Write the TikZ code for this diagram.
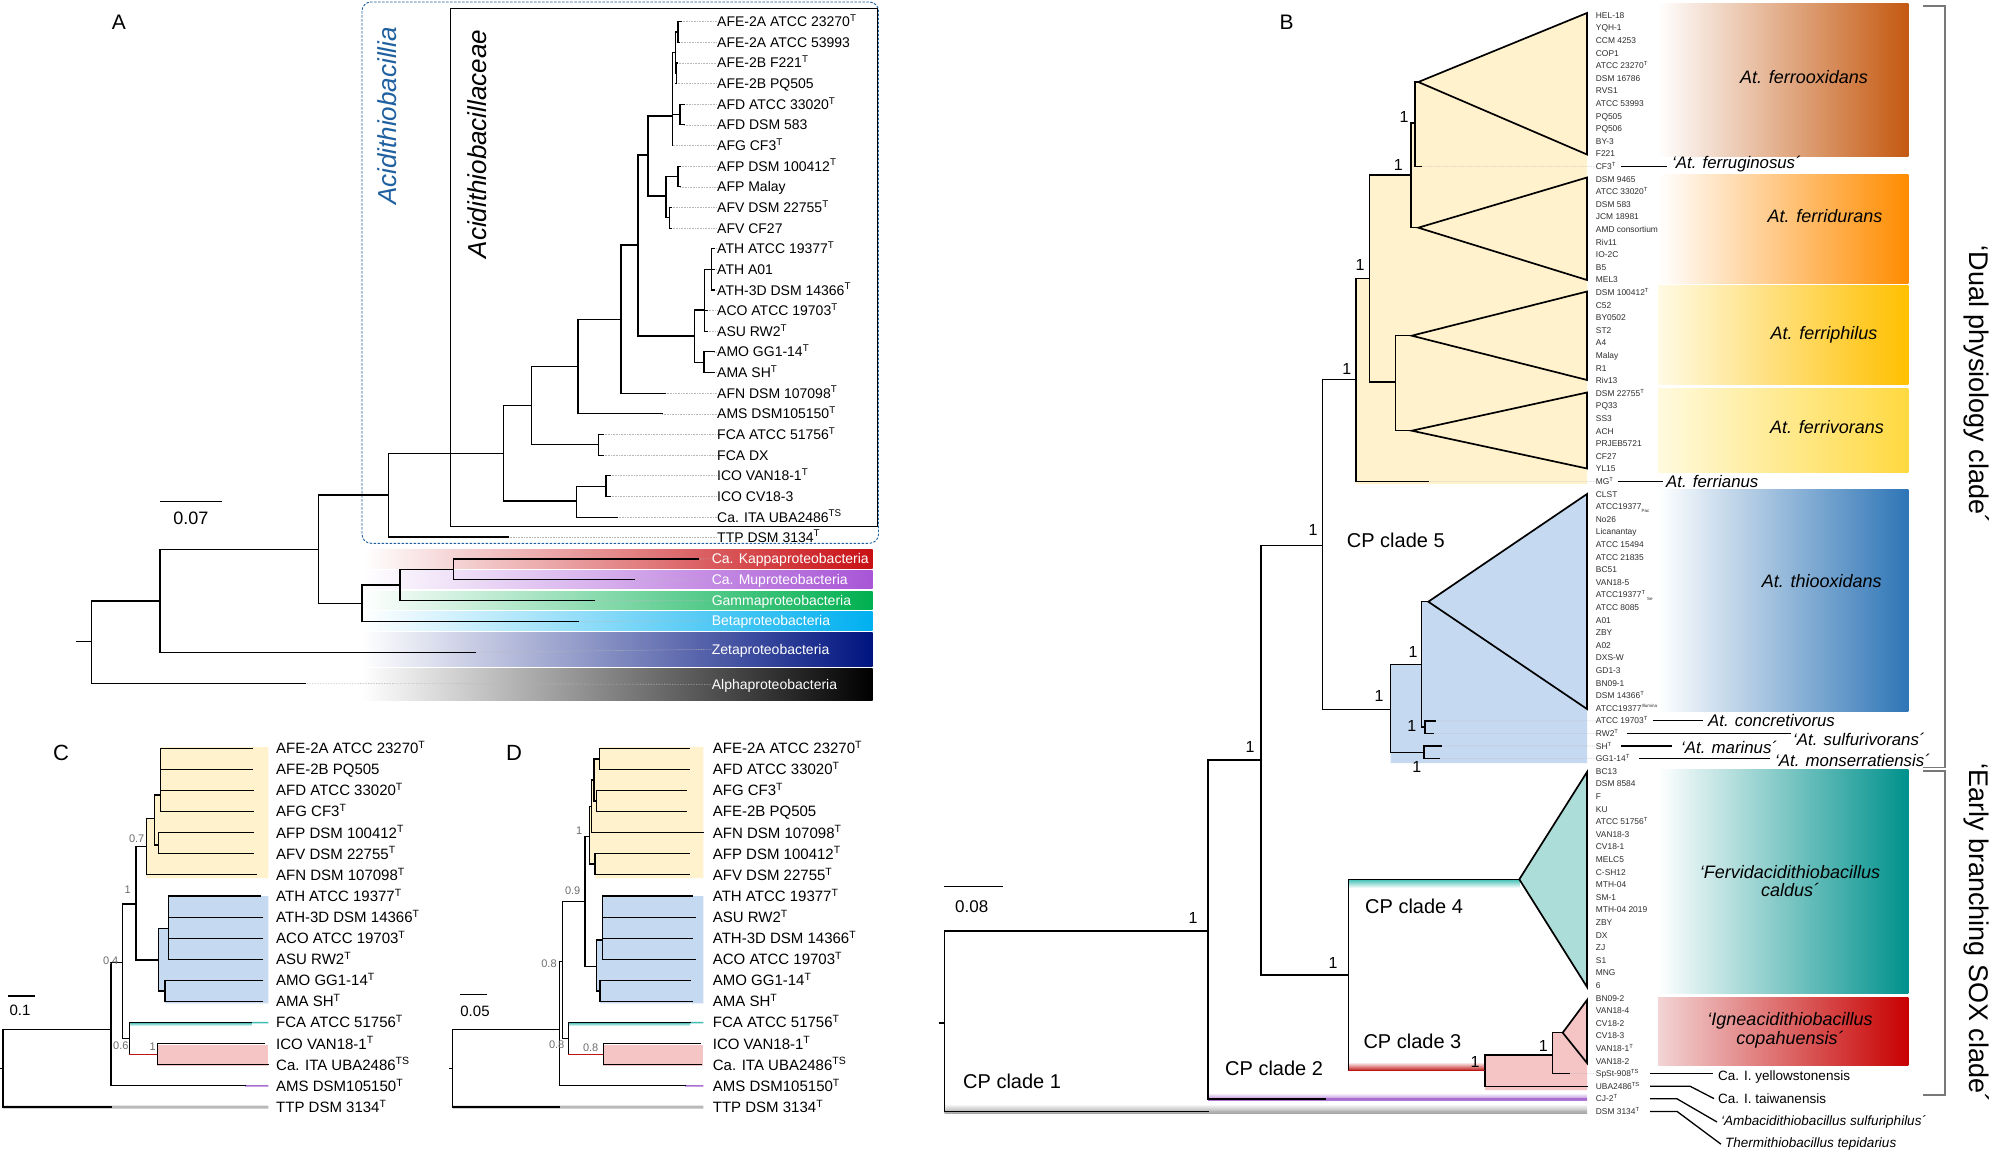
\documentclass[tikz,border=0pt]{standalone}
\usepackage{fontspec}
\setmainfont{Liberation Sans}
\usetikzlibrary{calc}
\definecolor{acidBlue}{RGB}{31,96,160}
\definecolor{kappaRed}{RGB}{200,16,20}
\definecolor{muPurple}{RGB}{168,85,214}
\definecolor{gammaGreen}{RGB}{0,176,80}
\definecolor{betaBlue}{RGB}{0,176,240}
\definecolor{zetaNavy}{RGB}{0,20,128}
\definecolor{alphaBlack}{RGB}{0,0,0}
\definecolor{ferroFill}{RGB}{255,242,204}
\definecolor{thioFill}{RGB}{197,217,240}
\definecolor{caldFill}{RGB}{173,221,216}
\definecolor{copaFill}{RGB}{245,196,196}
\definecolor{ferrooxBand}{RGB}{196,89,17}
\definecolor{ferridurBand}{RGB}{255,140,0}
\definecolor{ferriphBand}{RGB}{255,192,0}
\definecolor{ferriphLight}{RGB}{255,250,228}
\definecolor{ferrivoBand}{RGB}{255,217,64}
\definecolor{ferrivoLight}{RGB}{255,250,222}
\definecolor{thioBand}{RGB}{46,117,182}
\definecolor{caldBand}{RGB}{0,145,140}
\definecolor{copaBand}{RGB}{200,0,0}
\definecolor{copaLight}{RGB}{242,212,212}
\definecolor{tealLine}{RGB}{64,190,180}
\definecolor{purpLine}{RGB}{170,110,210}
\definecolor{redLine}{RGB}{190,20,20}
\definecolor{guideGray}{RGB}{185,185,185}
\definecolor{bootGray}{RGB}{110,110,110}
\definecolor{bracketGray}{RGB}{120,120,120}
\definecolor{strainInk}{RGB}{45,45,45}

\newcommand{\strainSub}[1]{\raisebox{-0.6ex}{\fontsize{4.5}{5}\selectfont#1}}
\newcommand{\strainSup}[1]{\raisebox{0.9ex}{\fontsize{4.5}{5}\selectfont#1}}

\tikzset{
  branch/.style={line width=1.1pt, line cap=rect},
  branchB/.style={line width=1.4pt, line cap=rect},
  tri/.style={line width=1.7pt, line join=miter},
  guide/.style={draw=guideGray, line width=0.6pt, densely dotted},
  tipA/.style={anchor=west, inner sep=0pt, text height=10pt, text depth=0pt, font=\fontsize{14}{16}\selectfont},
  tipCD/.style={anchor=west, inner sep=0pt, text height=10.7pt, text depth=0pt, font=\fontsize{15}{17}\selectfont},
  strain/.style={anchor=west, inner sep=0pt, text height=6pt, text depth=0pt, text=strainInk, font=\fontsize{8.4}{9}\selectfont},
  bandlab/.style={anchor=west, inner sep=0pt, text height=10pt, text depth=0pt, text=white, font=\fontsize{14}{16}\selectfont},
  boot/.style={inner sep=0pt, text=bootGray, font=\fontsize{11}{12}\selectfont},
  bootB/.style={inner sep=0pt, font=\fontsize{16}{18}\selectfont},
  panel/.style={inner sep=0pt, font=\fontsize{21}{24}\selectfont},
  scalelab/.style={inner sep=0pt, font=\fontsize{15}{17}\selectfont},
  species/.style={inner sep=0pt, align=center, font=\fontsize{18}{18.4}\selectfont\itshape},
  annotS/.style={anchor=west, inner sep=0pt, font=\fontsize{16.8}{18}\selectfont\itshape},
  annotL/.style={anchor=west, inner sep=0pt, font=\fontsize{13.5}{15}\selectfont},
  annotLine/.style={line width=1.3pt},
  clade/.style={anchor=west, inner sep=0pt, font=\fontsize{20}{22}\selectfont},
  bracket/.style={draw=bracketGray, line width=1.4pt},
  bracketlab/.style={inner sep=0pt, rotate=-90, font=\fontsize{27}{30}\selectfont},
  scalebar/.style={line width=1.4pt},
}

\begin{document}
\begin{tikzpicture}[x=1pt,y=-1pt]
\useasboundingbox (0,0) rectangle (1995,1154);
\fill[white] (0,0) rectangle (1995,1154);

% ================= panel A =================
\node[panel] (labA) at (119,22) {A};

% class bands
\foreach \yt/\yb/\col/\txt/\nm in {549.3/568.3/kappaRed/Ca. Kappaproteobacteria/kappa,
    570/588.3/muPurple/Ca. Muproteobacteria/mu,
    591/609.3/gammaGreen/Gammaproteobacteria/gamma,
    611.7/630/betaBlue/Betaproteobacteria/beta,
    632.7/666/zetaNavy/Zetaproteobacteria/zeta,
    668.3/700.5/alphaBlack/Alphaproteobacteria/alpha}{
  \shade[left color=white, right color=\col] (362,\yt) rectangle (872.6,\yb);
  \node[bandlab] (\nm-lab) at (711.6,{(\yt+\yb)/2}) {\txt};
}

% class and family boxes
\draw[acidBlue, line width=0.9pt, dash pattern=on 2.5pt off 1.5pt, rounded corners=9pt] (362,2) rectangle (878.5,543.3);
\draw[line width=1pt] (450.6,8.3) rectangle (877,526);
\node[rotate=90, inner sep=0pt, text=acidBlue, font=\fontsize{26}{28}\selectfont\itshape] (acidLab) at (387,116) {Acidithiobacillia};
\node[rotate=90, inner sep=0pt, font=\fontsize{26}{28}\selectfont\itshape] (famLab) at (477,144) {Acidithiobacillaceae};

% tips
\foreach \tx [count=\i from 0] in {681,679,677,676,684,684,672.5,680,680,671,671,714,714,714,707,707,714,714,665,662,603,603,610,610,617}
  \coordinate (aT\i) at (\tx,{21.7+\i*20.64});
\coordinate (aT25) at (508,537);
\foreach \lab [count=\i from 0] in {AFE-2A ATCC 23270\textsuperscript{T}, AFE-2A ATCC 53993, AFE-2B F221\textsuperscript{T}, AFE-2B PQ505, AFD ATCC 33020\textsuperscript{T}, AFD DSM 583, AFG CF3\textsuperscript{T}, AFP DSM 100412\textsuperscript{T}, AFP Malay, AFV DSM 22755\textsuperscript{T}, AFV CF27, ATH ATCC 19377\textsuperscript{T}, ATH A01, ATH-3D DSM 14366\textsuperscript{T}, ACO ATCC 19703\textsuperscript{T}, ASU RW2\textsuperscript{T}, AMO GG1-14\textsuperscript{T}, AMA SH\textsuperscript{T}, AFN DSM 107098\textsuperscript{T}, AMS DSM105150\textsuperscript{T}, FCA ATCC 51756\textsuperscript{T}, FCA DX, ICO VAN18-1\textsuperscript{T}, ICO CV18-3, Ca. ITA UBA2486\textsuperscript{TS}}
  \node[tipA] (aL\i) at (717,{21.7+\i*20.64}) {\lab};
\node[tipA] (aL25) at (717,537) {TTP DSM 3134\textsuperscript{T}};
\foreach \i in {0,...,25} \draw[guide] (aT\i) -- (aL\i.west);

\coordinate (kappa) at (698.6,559);
\coordinate (mu) at (634,579.3);
\coordinate (gamma) at (594.8,600.7);
\coordinate (beta) at (578,621.7);
\coordinate (zeta) at (475.9,652.3);
\coordinate (alpha) at (305.8,683.3);
\foreach \nm in {kappa,mu,gamma,beta,zeta,alpha} \draw[guide] (\nm) -- (\nm-lab.west);

% internal nodes
\coordinate (nAFEa) at (678,32);
\coordinate (nAFEb) at (676.5,73.3);
\coordinate (nAFE) at (675.5,52.6);
\coordinate (nAFD) at (680,114.6);
\coordinate (nFe1) at (672.3,116);
\coordinate (nAFP) at (678,176.5);
\coordinate (nAFV) at (669.5,217.8);
\coordinate (nFe2) at (666,196);
\coordinate (nFe) at (648,155);
\coordinate (nATH) at (711.6,269.4);
\coordinate (nACO) at (704.3,310);
\coordinate (nAMO) at (704,362.2);
\coordinate (nThio) at (694.7,336);
\coordinate (nAt) at (638,245);
\coordinate (nAFN) at (621,319.3);
\coordinate (nAMS) at (578,366.7);
\coordinate (nFCA) at (598.8,444.8);
\coordinate (nICO) at (606,486.1);
\coordinate (nIta) at (576.3,501);
\coordinate (nAF) at (531.4,405.7);
\coordinate (nAcd) at (503.4,453.3);
\coordinate (nAcia) at (388.3,495);
\coordinate (nKM) at (453.4,569.3);
\coordinate (nKMG) at (400,585);
\coordinate (nProt) at (362,603.3);
\coordinate (nAP) at (318.7,549.3);
\coordinate (nZ) at (160,601);
\coordinate (aRoot) at (91.5,641.7);
\coordinate (aStub) at (76.9,641.7);

\foreach \pa/\ch in {nAFEa/aT0, nAFEa/aT1, nAFEb/aT2, nAFEb/aT3, nAFE/nAFEa, nAFE/nAFEb,
    nAFD/aT4, nAFD/aT5, nFe1/nAFE, nFe1/nAFD, nFe1/aT6, nAFP/aT7, nAFP/aT8, nAFV/aT9, nAFV/aT10,
    nFe2/nAFP, nFe2/nAFV, nFe/nFe1, nFe/nFe2, nATH/aT11, nATH/aT12, nATH/aT13, nACO/nATH,
    nACO/aT14, nACO/aT15, nAMO/aT16, nAMO/aT17, nThio/nACO, nThio/nAMO, nAt/nFe, nAt/nThio,
    nAFN/nAt, nAFN/aT18, nAMS/nAFN, nAMS/aT19, nFCA/aT20, nFCA/aT21, nICO/aT22, nICO/aT23,
    nIta/nICO, nIta/aT24, nAF/nAMS, nAF/nFCA, nAcd/nAF, nAcd/nIta, nAcia/nAcd, nAcia/aT25,
    nKM/kappa, nKM/mu, nKMG/nKM, nKMG/gamma, nProt/nKMG, nProt/beta, nAP/nAcia, nAP/nProt,
    nZ/nAP, nZ/zeta, aRoot/nZ, aRoot/alpha}
  \draw[branch] (\pa) |- (\ch);
\draw[branch] (aStub) -- (aRoot);

\coordinate (sbA1) at (160,501.7);
\coordinate (sbA2) at (221.7,501.7);
\draw[scalebar] (sbA1) -- (sbA2);
\node[scalelab, font=\fontsize{18}{20}\selectfont] (sbAlab) at (190.8,518.3) {0.07};

% ================= panel C =================
\node[panel, font=\fontsize{22}{24}\selectfont] (labC) at (61,753.3) {C};
\fill[ferroFill] (160.5,747) -- (268.3,747) -- (268.3,878) -- (146.7,878) -- (146.7,818.3) -- (154.3,818.3) -- (154.3,795) -- (160.5,795) -- cycle;
\fill[thioFill] (168.3,896) -- (268.3,896) -- (268.3,1003.3) -- (165,1003.3) -- (165,991) -- (158.3,991) -- (158.3,928.3) -- (168.3,928.3) -- cycle;
\fill[copaFill] (157.3,1045) rectangle (268.3,1066);

\foreach \tx [count=\i from 0] in {252.3,252.3,253,253,253,253,256,260,262.3,262.3,262.3,262,262,251.7,264.3,268.3,245,111}
  \coordinate (cT\i) at (\tx,{748.3+\i*21.1});
\foreach \lab [count=\i from 0] in {AFE-2A ATCC 23270\textsuperscript{T}, AFE-2B PQ505, AFD ATCC 33020\textsuperscript{T}, AFG CF3\textsuperscript{T}, AFP DSM 100412\textsuperscript{T}, AFV DSM 22755\textsuperscript{T}, AFN DSM 107098\textsuperscript{T}, ATH ATCC 19377\textsuperscript{T}, ATH-3D DSM 14366\textsuperscript{T}, ACO ATCC 19703\textsuperscript{T}, ASU RW2\textsuperscript{T}, AMO GG1-14\textsuperscript{T}, AMA SH\textsuperscript{T}, FCA ATCC 51756\textsuperscript{T}, ICO VAN18-1\textsuperscript{T}, Ca. ITA UBA2486\textsuperscript{TS}, AMS DSM105150\textsuperscript{T}, TTP DSM 3134\textsuperscript{T}}
  \node[tipCD] (cL\i) at (276,{748.3+\i*21.1}) {\lab};

\coordinate (cn1) at (160.5,795);
\coordinate (cn2) at (158.3,845);
\coordinate (cn3) at (154.3,818.3);
\coordinate (cnY) at (146.7,846.7);
\coordinate (cnB1) at (168.3,928.3);
\coordinate (cnB2) at (165,991);
\coordinate (cnB) at (158.3,960);
\coordinate (cnAt) at (136,904);
\coordinate (cnIT) at (157.3,1054.3);
\coordinate (cnFI) at (129.3,1038.3);
\coordinate (cnA) at (122.7,962.7);
\coordinate (cnS) at (111,1029.3);
\coordinate (cRoot) at (3,1068.3);
\coordinate (cStub) at (0,1068.3);
\coordinate (cE13) at (268.3,1022.6);
\coordinate (cE16) at (268.3,1085.9);
\coordinate (cE17) at (268.3,1107);

\draw[gray!55, line width=3pt] (cRoot |- cT17) -- (cE17);
\shade[top color=tealLine, bottom color=white] (129.3,1022.6) rectangle (251.7,1026);
\draw[tealLine, line width=1.6pt] (cT13) -- (cE13);
\draw[purpLine, line width=1.6pt] (cT16) -- (cE16);
\foreach \pa/\ch in {cn1/cT0, cn1/cT1, cn1/cT2, cn1/cT3, cn2/cT4, cn2/cT5, cn3/cn1, cn3/cn2, cnY/cn3, cnY/cT6,
    cnB1/cT7, cnB1/cT8, cnB1/cT9, cnB1/cT10, cnB2/cT11, cnB2/cT12, cnB/cnB1, cnB/cnB2, cnAt/cnY, cnAt/cnB,
    cnIT/cT14, cnIT/cT15, cnFI/cT13, cnFI/cnIT, cnA/cnAt, cnA/cnFI, cnS/cnA, cnS/cT16, cRoot/cnS, cRoot/cT17}
  \draw[branch] (\pa) |- (\ch);
\draw[redLine, line width=1.4pt] (cnFI |- cnIT) -- (cnIT);
\draw[branch] (cStub) -- (cRoot);

\node[boot] (cb1) at (136.7,838.3) {0.7};
\node[boot] (cb2) at (127.7,890) {1};
\node[boot] (cb3) at (110.7,960.7) {0.4};
\node[boot] (cb4) at (120.8,1046) {0.6};
\node[boot] (cb5) at (152.7,1046.7) {1};

\coordinate (sbC1) at (8.3,996);
\coordinate (sbC2) at (35,996);
\draw[scalebar] (sbC1) -- (sbC2);
\node[scalelab] (sbClab) at (20,1010) {0.1};

% ================= panel D =================
\node[panel, font=\fontsize{22}{24}\selectfont] (labD) at (514,753.3) {D};
\fill[ferroFill] (599.3,747) -- (703.3,747) -- (703.3,878) -- (595,878) -- (595,864) -- (589.3,864) -- (589.3,806.7) -- (591.5,806.7) -- (591.5,780) -- (594,780) -- (594,759) -- (599.3,759) -- cycle;
\fill[thioFill] (602.3,896) -- (703.3,896) -- (703.3,1003.3) -- (600,1003.3) -- (600,991) -- (596.7,991) -- (596.7,940) -- (602.3,940) -- cycle;
\fill[copaFill] (603.3,1045) rectangle (703.3,1066);

\foreach \tx [count=\i from 0] in {689.3,689.3,686.7,686.7,703.3,689.3,689.3,692.7,695,692.7,695,690,692.7,690,700,701.7,685,559.3}
  \coordinate (dT\i) at (\tx,{748.3+\i*21.1});
\foreach \lab [count=\i from 0] in {AFE-2A ATCC 23270\textsuperscript{T}, AFD ATCC 33020\textsuperscript{T}, AFG CF3\textsuperscript{T}, AFE-2B PQ505, AFN DSM 107098\textsuperscript{T}, AFP DSM 100412\textsuperscript{T}, AFV DSM 22755\textsuperscript{T}, ATH ATCC 19377\textsuperscript{T}, ASU RW2\textsuperscript{T}, ATH-3D DSM 14366\textsuperscript{T}, ACO ATCC 19703\textsuperscript{T}, AMO GG1-14\textsuperscript{T}, AMA SH\textsuperscript{T}, FCA ATCC 51756\textsuperscript{T}, ICO VAN18-1\textsuperscript{T}, Ca. ITA UBA2486\textsuperscript{TS}, AMS DSM105150\textsuperscript{T}, TTP DSM 3134\textsuperscript{T}}
  \node[tipCD] (dL\i) at (712.7,{748.3+\i*21.1}) {\lab};

\coordinate (dn1) at (599.3,759);
\coordinate (dn2) at (596.7,801);
\coordinate (dn3) at (594,780);
\coordinate (dn5) at (591.5,806.7);
\coordinate (dn6) at (595,864);
\coordinate (dn4) at (589.3,836.7);
\coordinate (dnb1) at (602.3,940);
\coordinate (dnb2) at (600,991);
\coordinate (dnB) at (596.7,966.7);
\coordinate (dnAt) at (585,901.7);
\coordinate (dnIT) at (603.3,1054.3);
\coordinate (dnFI) at (568.3,1038.3);
\coordinate (dnA) at (562.7,961.7);
\coordinate (dnS) at (559.3,1029.3);
\coordinate (dRoot) at (452.7,1068.3);
\coordinate (dStub) at (450,1068.3);
\coordinate (dE13) at (703.3,1022.6);
\coordinate (dE16) at (703.3,1085.9);
\coordinate (dE17) at (703.3,1107);

\draw[gray!55, line width=3pt] (dRoot |- dT17) -- (dE17);
\shade[top color=tealLine, bottom color=white] (568.3,1022.6) rectangle (690,1026);
\draw[tealLine, line width=1.6pt] (dT13) -- (dE13);
\draw[purpLine, line width=1.6pt] (dT16) -- (dE16);
\foreach \pa/\ch in {dn1/dT0, dn1/dT1, dn2/dT2, dn2/dT3, dn3/dn1, dn3/dn2, dn5/dn3, dn5/dT4, dn6/dT5, dn6/dT6,
    dn4/dn5, dn4/dn6, dnb1/dT7, dnb1/dT8, dnb1/dT9, dnb1/dT10, dnb2/dT11, dnb2/dT12, dnB/dnb1, dnB/dnb2,
    dnAt/dn4, dnAt/dnB, dnIT/dT14, dnIT/dT15, dnFI/dT13, dnFI/dnIT, dnA/dnAt, dnA/dnFI, dnS/dnA, dnS/dT16,
    dRoot/dnS, dRoot/dT17}
  \draw[branch] (\pa) |- (\ch);
\draw[redLine, line width=1.4pt] (dnFI |- dnIT) -- (dnIT);
\draw[branch] (dStub) -- (dRoot);

\node[boot] (db1) at (579.3,830.7) {1};
\node[boot] (db2) at (572.7,890.7) {0.9};
\node[boot] (db3) at (549,963.3) {0.8};
\node[boot] (db4) at (556.7,1045) {0.8};
\node[boot] (db5) at (590.7,1047.7) {0.8};

\coordinate (sbD1) at (460,994.3);
\coordinate (sbD2) at (486.7,994.3);
\draw[scalebar] (sbD1) -- (sbD2);
\node[scalelab] (sbDlab) at (475,1011) {0.05};

% ================= panel B =================
\node[panel] (labB) at (1286.7,22) {B};

% clade fills
\fill[ferroFill] (1356,484) -- (1356,278.3) -- (1369.3,278.3) -- (1369.3,175) -- (1411,175) -- (1411,123) -- (1415,123) -- (1415,82) -- (1418.3,82) -- (1587,13) -- (1587,484) -- cycle;
\fill[thioFill] (1390.7,763) -- (1390.7,664.3) -- (1421.7,664.3) -- (1421.7,601.7) -- (1428.3,601.7) -- (1587,494) -- (1587,763) -- cycle;
\fill[copaFill] (1485,1090) -- (1485,1055) -- (1552.3,1055) -- (1552.3,1032.7) -- (1562.7,1032.7) -- (1587,1000) -- (1587,1090) -- cycle;

% strain labels
\foreach \lab [count=\i] in {HEL-18, YQH-1, CCM 4253, COP1, ATCC 23270\textsuperscript{T}, DSM 16786, RVS1, ATCC 53993, PQ505, PQ506, BY-3, F221, CF3\textsuperscript{T}, DSM 9465, ATCC 33020\textsuperscript{T}, DSM 583, JCM 18981, AMD consortium, Riv11, IO-2C, B5, MEL3, DSM 100412\textsuperscript{T}, C52, BY0502, ST2, A4, Malay, R1, Riv13, DSM 22755\textsuperscript{T}, PQ33, SS3, ACH, PRJEB5721, CF27, YL15, MG\textsuperscript{T}, CLST, ATCC19377\strainSub{Pac}, No26, Licanantay, ATCC 15494, ATCC 21835, BC51, VAN18-5, ATCC19377\textsuperscript{T}\,\strainSub{Se}, ATCC 8085, A01, ZBY, A02, DXS-W, GD1-3, BN09-1, DSM 14366\textsuperscript{T}, ATCC19377\strainSup{Illumina}, ATCC 19703\textsuperscript{T}, RW2\textsuperscript{T}, SH\textsuperscript{T}, GG1-14\textsuperscript{T}, BC13, DSM 8584, F, KU, ATCC 51756\textsuperscript{T}, VAN18-3, CV18-1, MELC5, C-SH12, MTH-04, SM-1, MTH-04 2019, ZBY, DX, ZJ, S1, MNG, 6, BN09-2, VAN18-4, CV18-2, CV18-3, VAN18-1\textsuperscript{T}, VAN18-2, SpSt-908\textsuperscript{TS}, UBA2486\textsuperscript{TS}, CJ-2\textsuperscript{T}, DSM 3134\textsuperscript{T}}
  \node[strain] (b\i) at (1595.7,{15.2+(\i-1)*12.6}) {\lab};

% species bands
\foreach \yt/\yb/\lc/\rc in {3.7/156/white/ferrooxBand, 174.4/283.3/white/ferridurBand, 285.5/384.8/ferriphLight/ferriphBand,
    388.5/472.4/ferrivoLight/ferrivoBand, 489.3/711.6/white/thioBand, 769/993.4/white/caldBand, 997/1065.5/copaLight/copaBand}
  \shade[left color=\lc, right color=\rc] (1658,\yt) rectangle (1908.3,\yb);
\node[species] (ferroox) at (1804,77.3) {At. ferrooxidans};
\node[species] (ferridur) at (1825,215.6) {At. ferridurans};
\node[species] (ferriph) at (1824,334.8) {At. ferriphilus};
\node[species] (ferrivo) at (1827,426.8) {At. ferrivorans};
\node[species] (thioox) at (1821.7,581.3) {At. thiooxidans};
\node[species] (caldus) at (1790,881.2) {‘Fervidacidithiobacillus\\caldus´};
\node[species] (copah) at (1790,1030.5) {‘Igneacidithiobacillus\\copahuensis´};

% tree tips and nodes
\coordinate (tA1) at (1418.3,82);
\coordinate (tA2) at (1418.3,227.7);
\coordinate (tA3) at (1411.7,335.7);
\coordinate (tA4) at (1411.7,430.7);
\coordinate (tA5) at (1428.3,601.7);
\coordinate (tA6) at (1519.3,879.3);
\coordinate (tA7) at (1562.7,1032.7);
\foreach \i/\yt/\yb in {1/13/154.5, 2/177.5/280, 3/291.5/380, 4/392.5/468.5, 5/494/709, 6/772/987, 7/1000/1063}{
  \coordinate (tT\i) at (1587,\yt);
  \coordinate (tB\i) at (1587,\yb);
}
\coordinate (bT13) at (1421.7,166.4);
\coordinate (bT38) at (1428.3,481.4);
\coordinate (bT57) at (1435,720.8);
\coordinate (bT58) at (1433.3,733.4);
\coordinate (bT59) at (1441.7,746);
\coordinate (bT60) at (1439.3,758.6);
\coordinate (bT85) at (1569.3,1073.6);
\coordinate (bT86) at (1587,1086.2);
\coordinate (bT87) at (1325,1098.8);
\coordinate (bT88) at (1208,1111.4);
\coordinate (bE87) at (1587,1098.8);
\coordinate (bE88) at (1587,1111.4);
\coordinate (n1415) at (1415,123);
\coordinate (n1411) at (1411,175);
\coordinate (n1395) at (1395.7,382);
\coordinate (n1369) at (1369.3,278.3);
\coordinate (n1356) at (1356,379.3);
\coordinate (n1425) at (1425,727);
\coordinate (n1421) at (1421.7,664.3);
\coordinate (n1424) at (1424,752.3);
\coordinate (n1390) at (1390.7,709.3);
\coordinate (n1322) at (1322.7,545.3);
\coordinate (n1552) at (1552.3,1055);
\coordinate (n1485) at (1485,1070.7);
\coordinate (n1348) at (1348.3,975);
\coordinate (n1261) at (1261,760);
\coordinate (n1208) at (1208,930.8);
\coordinate (bRoot) at (944.7,1022.8);
\coordinate (bStub) at (940,1022.8);

% coloured clade stems
\shade[top color=white, bottom color=gray!70] (944.7,1104) rectangle (1587,1113);
\shade[top color=white, bottom color=purpLine] (1208,1093) rectangle (1587,1100.5);
\shade[top color=tealLine, bottom color=white] (1348.3,879.3) rectangle (1519.3,888);
\shade[top color=white, bottom color=redLine] (1348.3,1062) rectangle (1485,1070.7);
\draw[purpLine, line width=1.4pt] (bT87) -- (bE87);
\draw[gray!60, line width=1.6pt] (bT88) -- (bE88);

\foreach \i in {13,38,57,58,59,60,85} \draw[guide] (bT\i) -- (b\i.west);

\foreach \pa/\ch in {n1415/tA1, n1415/bT13, n1411/n1415, n1411/tA2, n1395/tA3, n1395/tA4, n1369/n1411, n1369/n1395,
    n1356/n1369, n1356/bT38, n1425/bT57, n1425/bT58, n1421/tA5, n1421/n1425, n1424/bT59, n1424/bT60,
    n1390/n1421, n1390/n1424, n1322/n1356, n1322/n1390, n1552/tA7, n1552/bT85, n1485/n1552, n1485/bT86,
    n1348/tA6, n1348/n1485, n1261/n1322, n1261/n1348, n1208/n1261, n1208/bT87, bRoot/n1208, bRoot/bT88}
  \draw[branchB] (\pa) |- (\ch);
\draw[redLine, line width=1.4pt] (n1348 |- n1485) -- (n1485);
\draw[branchB] (bStub) -- (bRoot);

\foreach \i/\col in {1/ferroFill, 2/ferroFill, 3/ferroFill, 4/ferroFill, 5/thioFill, 6/caldFill, 7/copaFill}
  \draw[tri, fill=\col] (tA\i) -- (tT\i) -- (tB\i) -- cycle;

% support values
\foreach \bx/\by [count=\i] in {1404/116.7, 1398.3/165, 1360/265, 1346.7/369.3, 1313/530, 1250/747, 1193/918,
    1379/696, 1413/651.7, 1411.7/726, 1416.7/767.3, 1333/963, 1475/1061.7, 1543.3/1046}
  \node[bootB] (bs\i) at (\bx,\by) {1};

% clade names
\node[clade] (cp5) at (1346.7,540) {CP clade 5};
\node[clade] (cp4) at (1365,906.7) {CP clade 4};
\node[clade] (cp3) at (1363.3,1041.7) {CP clade 3};
\node[clade] (cp2) at (1225,1068.4) {CP clade 2};
\node[clade] (cp1) at (963,1081.7) {CP clade 1};

\coordinate (sbB1) at (944,886.7);
\coordinate (sbB2) at (1003.3,886.7);
\draw[scalebar] (sbB1) -- (sbB2);
\node[scalelab, font=\fontsize{17}{19}\selectfont] (sbBlab) at (971.7,906.6) {0.08};

% side names
\node[annotS] (ferrugLab) at (1672,164) {‘At. ferruginosus´};
\node[annotS] (ferrianLab) at (1666,481.4) {At. ferrianus};
\node[annotS] (concrLab) at (1708,720) {At. concretivorus};
\node[annotS] (sulfLab) at (1793,739.5) {‘At. sulfurivorans´};
\node[annotS] (marinLab) at (1681,746.9) {‘At. marinus´};
\node[annotS] (monsLab) at (1775,760.5) {‘At. monserratiensis´};
\node[annotL] (yellLab) at (1718,1076.5) {Ca. I. yellowstonensis};
\node[annotL] (taiwLab) at (1718,1098.6) {Ca. I. taiwanensis};
\node[annotL, font=\fontsize{13.5}{15}\selectfont\itshape] (ambaLab) at (1721,1122) {‘Ambacidithiobacillus sulfuriphilus´};
\node[annotL, font=\fontsize{13.5}{15}\selectfont\itshape] (thermLab) at (1725,1144.2) {Thermithiobacillus tepidarius};

\draw[annotLine] ([xshift=5pt]b13.east) -- ([xshift=-5pt]ferrugLab.west |- b13.east);
\draw[annotLine] ([xshift=4pt]b38.east) -- ([xshift=-3pt]ferrianLab.west |- b38.east);
\draw[annotLine] ([xshift=5pt]b57.east) -- ([xshift=-5pt]concrLab.west |- b57.east);
\draw[annotLine] ([xshift=8pt]b58.east) -- ([xshift=-2pt]sulfLab.west |- b58.east);
\draw[annotLine] ([xshift=9pt]b59.east) -- ([xshift=-9pt]marinLab.west |- b59.east);
\draw[annotLine] ([xshift=9pt]b60.east) -- ([xshift=-5pt]monsLab.west |- b60.east);
\coordinate (yellStart) at (1650,1073.6);
\coordinate (taiwStart) at (1650,1086.2);
\coordinate (ambaStart) at (1650,1098.8);
\coordinate (thermStart) at (1650,1111.4);
\draw[annotLine] (yellStart) -- ([xshift=-5pt]yellLab.west |- yellStart);
\draw[annotLine] (taiwStart) -- ++(40,0) -- ([xshift=-4pt]taiwLab.west);
\draw[annotLine] (ambaStart) -- ++(27,0) -- ([xshift=-4pt]ambaLab.west);
\draw[annotLine] (thermStart) -- ++(27,0) -- ([xshift=-4pt]thermLab.west);

% brackets
\coordinate (brA1) at (1923.3,5.9);
\coordinate (brA2) at (1945,5.9);
\coordinate (brA3) at (1945,767.5);
\coordinate (brA4) at (1923.3,767.5);
\coordinate (brB1) at (1923.3,771);
\coordinate (brB2) at (1945,771);
\coordinate (brB3) at (1945,1095);
\coordinate (brB4) at (1923.3,1095);
\draw[bracket] (brA1) -- (brA2) -- (brA3) -- (brA4);
\draw[bracket] (brB1) -- (brB2) -- (brB3) -- (brB4);
\node[bracketlab] (dualLab) at (1977,384.5) {‘Dual physiology clade´};
\node[bracketlab] (earlyLab) at (1977,932.8) {‘Early branching SOX clade´};
\end{tikzpicture}
\end{document}
